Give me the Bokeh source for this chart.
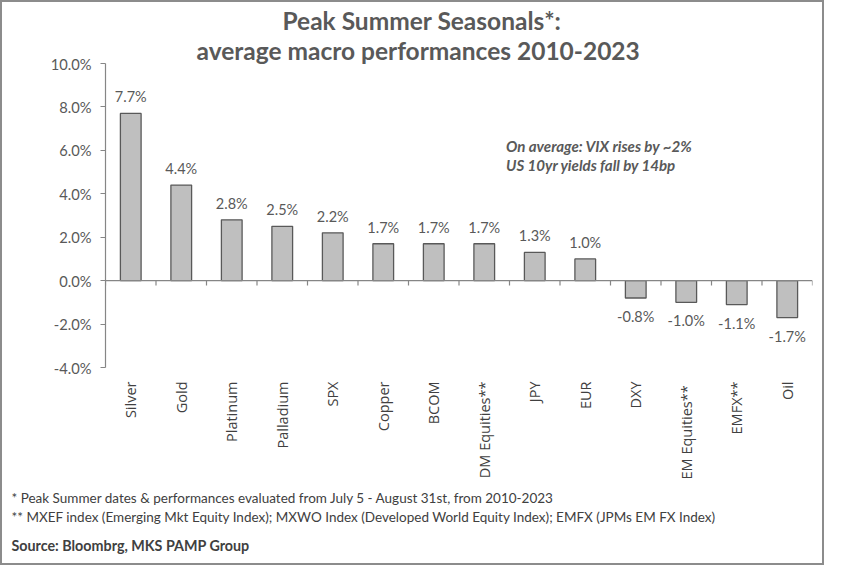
import math
from bokeh.plotting import figure
from bokeh.models import (ColumnDataSource, Label, LabelSet, PrintfTickFormatter,
                          FixedTicker, Span, Range1d, FactorRange, Title)
from bokeh.core.properties import value
from bokeh.embed import file_html
from bokeh.resources import INLINE

# ---- data ----
categories = ["Silver", "Gold", "Platinum", "Palladium", "SPX", "Copper", "BCOM",
              "DM Equities**", "JPY", "EUR", "DXY", "EM  Equities**", "EMFX**", "Oil"]
values = [7.7, 4.4, 2.8, 2.5, 2.2, 1.7, 1.7, 1.7, 1.3, 1.0, -0.8, -1.0, -1.1, -1.7]
y_ticks = [-4, -2, 0, 2, 4, 6, 8, 10]
y_min, y_max = -4, 10

title_lines = ["Peak Summer Seasonals*:", "average macro performances 2010-2023"]
note_lines = ["On average: VIX rises by ~2%", "US 10yr yields fall by 14bp"]
foot_lines = ["* Peak Summer dates & performances evaluated  from July 5 - August 31st, from 2010-2023",
              "** MXEF index (Emerging Mkt Equity Index); MXWO Index (Developed World Equity Index); EMFX (JPMs EM FX Index)"]
source_line = "Source: Bloombrg, MKS PAMP Group"

# ---- layout geometry (figure pixels) ----
W, H = 824, 565
FL, FR, FT, FB = 103, 810, 61, 368
N = len(categories)

def xd(fx):
    return (fx - FL) * N / (FR - FL)

def yd(fy):
    return y_max - (fy - FT) * (y_max - y_min) / (FB - FT)

FONT = "Lato"
TXT = "#595959"

p = figure(width=W, height=H, x_range=FactorRange(*categories),
           y_range=Range1d(y_min, y_max), output_backend="svg",
           toolbar_location=None, min_border_left=FL, min_border_right=W - FR,
           min_border_top=FT, min_border_bottom=H - FB)
p.styles = {"border": "2px solid #8C8C8C"}
p.outline_line_color = None
p.xgrid.grid_line_color = None
p.ygrid.grid_line_color = None
p.background_fill_color = "white"
p.border_fill_color = "white"

src = ColumnDataSource(dict(cat=categories, val=values))
p.vbar(x="cat", top="val", bottom=0, width=0.41, source=src,
       fill_color="#BFBFBF", line_color="#595959", line_width=1.3)

# zero line with category boundary ticks
p.add_layout(Span(location=0, dimension="width", line_color="#868686", line_width=1.2))
bounds = list(range(N + 1))
tick_len = 5 * (y_max - y_min) / (FB - FT)
p.segment(x0=bounds, y0=[0] * len(bounds), x1=bounds, y1=[-tick_len] * len(bounds),
          line_color="#868686", line_width=1.2)

# data labels
pos = [i for i, v in enumerate(values) if v >= 0]
neg = [i for i, v in enumerate(values) if v < 0]
src_pos = ColumnDataSource(dict(cat=[categories[i] for i in pos], val=[values[i] for i in pos],
                                lbl=["%.1f%%" % values[i] for i in pos]))
src_neg = ColumnDataSource(dict(cat=[categories[i] for i in neg], val=[values[i] for i in neg],
                                lbl=["%.1f%%" % values[i] for i in neg]))
p.add_layout(LabelSet(x="cat", y="val", text="lbl", source=src_pos, y_offset=8,
                      text_align="center", text_baseline="bottom",
                      text_font=value(FONT), text_font_size=value("14.5px"),
                      text_color=TXT))
p.add_layout(LabelSet(x="cat", y="val", text="lbl", source=src_neg, y_offset=-10,
                      text_align="center", text_baseline="top",
                      text_font=value(FONT), text_font_size=value("14.5px"),
                      text_color=TXT))

# axes
ya = p.yaxis[0]
ya.ticker = FixedTicker(ticks=y_ticks)
ya.formatter = PrintfTickFormatter(format="%.1f%%")
ya.axis_line_color = "#868686"
ya.axis_line_width = 1.2
ya.major_tick_line_color = "#868686"
ya.major_tick_out = 5
ya.major_tick_in = 0
ya.minor_tick_line_color = None
ya.major_label_standoff = 9
ya.major_label_text_font = FONT
ya.major_label_text_font_size = "14.7px"
ya.major_label_text_color = TXT

xa = p.xaxis[0]
xa.axis_line_color = None
xa.major_tick_line_color = None
xa.minor_tick_line_color = None
xa.major_label_orientation = math.pi / 2
xa.major_label_standoff = 8
xa.major_label_text_font = "Open Sans"
xa.major_label_text_font_size = "14.5px"
xa.major_label_text_color = "#404040"

# title (two lines); first added sits nearest the frame
for line, off, so in zip(reversed(title_lines), [91, 177], [-2, 0]):
    p.add_layout(Title(text=line, align="left", offset=off, text_font=FONT,
                       text_font_style="bold", text_font_size="24.5px",
                       text_color=TXT, standoff=so), "above")

# annotation
for line, fy in zip(note_lines, [144, 164]):
    p.add_layout(Label(x=xd(503.5), y=yd(fy), text=line, text_align="left",
                       text_baseline="middle", text_font=FONT,
                       text_font_style="bold italic", text_font_size="15.1px",
                       text_color=TXT))

# footnotes
foot_offset = 9 - FL
for line, so in zip(foot_lines, [11, -9]):
    p.add_layout(Title(text=line, align="left", offset=foot_offset, text_font=FONT,
                       text_font_style="normal", text_font_size="13.5px",
                       text_color="#404040", standoff=so), "below")
p.add_layout(Title(text=source_line, align="left", offset=foot_offset, text_font=FONT,
                   text_font_style="bold", text_font_size="14.3px",
                   text_color="#404040", standoff=28), "below")

open("out.html", "w").write(file_html(p, INLINE))
